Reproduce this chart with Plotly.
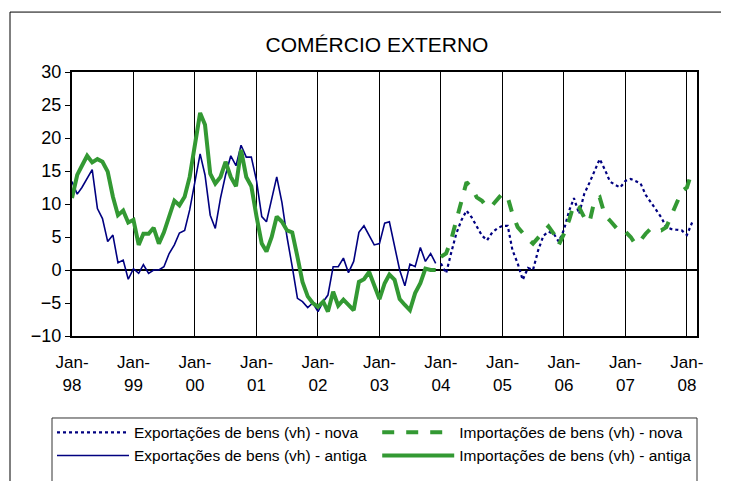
import pandas as pd
import plotly.graph_objects as go

# Old series (antiga): Jan-98 .. Dec-03
exp_antiga = [13.4, 11.5, 12.5, 13.9, 15.2, 9.3, 7.8, 4.3, 5.3, 1.1, 1.5, -1.4,
              0.2, -0.5, 0.8, -0.5, 0.0, 0.0, 0.5, 2.5, 3.8, 5.6, 6.0, 9.1,
              13.1, 17.6, 14.4, 8.3, 6.3, 10.9, 14.4, 17.3, 15.8, 18.9, 17.1, 17.1,
              13.5, 8.1, 7.3, 10.9, 14.1, 10.2, 5.0, 0.5, -4.3, -4.8, -5.7, -5.0,
              -6.3, -4.8, -3.8, 0.5, 0.5, 1.8, -0.4, 1.3, 5.7, 6.7, 5.3, 3.8,
              4.0, 7.1, 7.3, 3.5, 0.0, -2.4, 0.9, 0.5, 3.4, 1.3, 2.5, 1.0]
imp_antiga = [10.9, 14.4, 15.8, 17.3, 16.3, 16.8, 16.4, 14.9, 11.1, 8.3, 9.0, 7.2,
              7.6, 3.8, 5.5, 5.5, 6.4, 4.0, 5.7, 8.3, 10.5, 9.8, 11.1, 14.1,
              18.7, 23.8, 22.0, 14.6, 13.1, 14.1, 16.4, 14.1, 12.7, 18.2, 14.1, 12.7,
              8.1, 4.0, 2.8, 5.0, 8.1, 7.3, 6.0, 5.7, 2.0, -1.8, -4.0, -5.0,
              -5.6, -4.8, -6.3, -3.3, -5.4, -4.5, -5.3, -6.1, -1.8, -1.4, -0.3, -2.5,
              -4.4, -2.0, -0.7, -1.5, -4.4, -5.3, -6.1, -3.5, -2.0, 0.2, 0.0, 0.0]

# New series (nova): Jan-04 .. Feb-08
exp_nova = [1.0, -0.5, 2.5, 5.5, 7.5, 9.0, 8.0, 6.5, 5.2, 4.5, 5.7, 6.3,
            6.7, 6.7, 3.0, 1.0, -1.5, 0.3, 0.0, 3.0, 5.2, 5.8, 5.5, 4.3,
            6.1, 9.0, 10.9, 8.5, 11.5, 13.2, 15.0, 16.8, 15.2, 13.4, 12.9, 12.5,
            13.5, 13.8, 13.5, 13.1, 11.4, 10.2, 9.0, 8.0, 6.5, 6.2, 6.1, 6.0,
            5.3, 7.2]
imp_nova = [2.0, 2.5, 4.5, 7.5, 10.5, 13.3, 12.5, 11.0, 10.5, 9.5, 9.8, 10.8,
            11.6, 11.0, 8.5, 6.5, 5.5, 4.7, 4.0, 4.8, 5.8, 6.6, 5.5, 3.8,
            5.5, 7.6, 10.0, 9.5, 8.0, 7.2, 10.5, 11.0, 8.3, 7.5, 6.5, 5.7,
            5.8, 5.0, 3.9, 4.5, 5.5, 6.3, 6.1, 6.0, 6.5, 8.3, 10.0, 11.9,
            12.5, 15.0]

dates_antiga = pd.date_range("1998-01-01", periods=len(exp_antiga), freq="MS")
dates_nova = pd.date_range("2004-01-01", periods=len(exp_nova), freq="MS")

tick_years = list(range(1998, 2009))
tick_vals = [f"{y}-01-01" for y in tick_years]
tick_text = [f"Jan-<br>{str(y)[2:]}" for y in tick_years]

BLUE = "#000080"
GREEN = "#339933"
FONT = "Liberation Sans, Arial, sans-serif"

fig = go.Figure()
fig.add_trace(go.Scatter(x=dates_nova, y=exp_nova, mode="lines",
                         name="Exportações de bens (vh) - nova",
                         line=dict(color=BLUE, width=2.2, dash="dot")))
fig.add_trace(go.Scatter(x=dates_nova, y=imp_nova, mode="lines",
                         name="Importações de bens (vh) - nova",
                         line=dict(color=GREEN, width=4, dash="dash")))
fig.add_trace(go.Scatter(x=dates_antiga, y=exp_antiga, mode="lines",
                         name="Exportações de bens (vh) - antiga",
                         line=dict(color=BLUE, width=1.6)))
fig.add_trace(go.Scatter(x=dates_antiga, y=imp_antiga, mode="lines",
                         name="Importações de bens (vh) - antiga",
                         line=dict(color=GREEN, width=4)))

fig.update_layout(
    width=729, height=481,
    margin=dict(l=64, r=40, t=64, b=153, autoexpand=False),
    paper_bgcolor="white", plot_bgcolor="white",
    font=dict(family=FONT, color="black"),
    title=dict(text="COMÉRCIO EXTERNO", x=0.488, xref="paper", xanchor="center",
               y=0.923, yref="container", yanchor="middle",
               font=dict(size=21, family=FONT, color="black")),
    showlegend=True,
    legend=dict(orientation="h", x=-0.032, y=-0.302, xanchor="left", yanchor="top",
                entrywidth=0.472, entrywidthmode="fraction",
                borderwidth=0, bgcolor="rgba(0,0,0,0)",
                font=dict(size=15.5, family=FONT, color="black"),
                tracegroupgap=0, itemwidth=72),
    shapes=[
        # outer chart frame (only top and left edges visible)
        dict(type="rect", xref="paper", yref="paper",
             x0=-0.0992, x1=1.3, y0=-1.0, y1=1.227,
             line=dict(color="black", width=1), layer="below"),
        # legend frame
        dict(type="rect", xref="paper", yref="paper",
             x0=-0.032, x1=1.0, y0=-1.0, y1=-0.3106,
             line=dict(color="#333333", width=1), fillcolor="white", layer="below"),
    ],
)

fig.update_xaxes(
    type="date", range=["1998-01-01", "2008-03-01"],
    tickmode="array", tickvals=tick_vals, ticktext=tick_text,
    showgrid=True, gridcolor="black", gridwidth=1,
    showline=True, linecolor="black", linewidth=2, mirror=True,
    ticks="", ticklabelstandoff=10,
    tickfont=dict(size=17, family=FONT, color="black"),
)
fig.update_yaxes(
    range=[-10, 30], dtick=5, tick0=0,
    showgrid=False,
    zeroline=True, zerolinecolor="black", zerolinewidth=2,
    showline=True, linecolor="black", linewidth=2, mirror=True,
    ticks="outside", ticklen=5, tickcolor="black",
    tickfont=dict(size=18, family=FONT, color="black"),
)

fig.write_html("out.html")
